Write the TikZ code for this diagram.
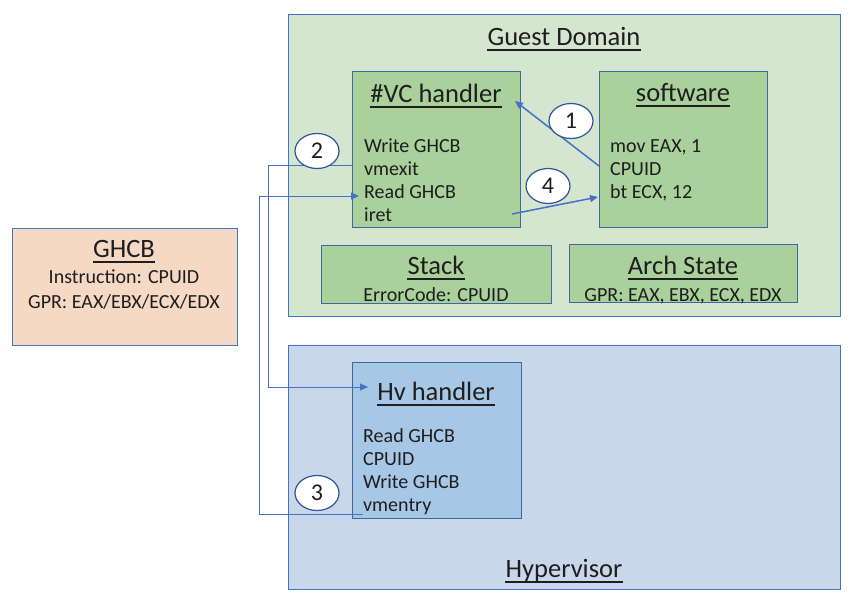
\documentclass[tikz,border=0pt]{standalone}
\usepackage{fontspec}
\setmainfont{Carlito}
\usetikzlibrary{shapes.geometric,arrows.meta}
\definecolor{bordblue}{HTML}{4472C4}
\definecolor{darkbord}{HTML}{41689E}
\definecolor{guestfill}{HTML}{D5E6D0}
\definecolor{greenbox}{HTML}{AAD09B}
\definecolor{hvfill}{HTML}{C9D7EA}
\definecolor{hvbox}{HTML}{A7C7E6}
\definecolor{ghcbfill}{HTML}{F6D9C5}
\definecolor{txt}{HTML}{1E1E1E}
\definecolor{circbord}{HTML}{2F5597}
\tikzset{
  x=1pt, y=-1pt,
  region/.style={draw=bordblue, line width=1.3pt, anchor=north west, inner sep=0pt},
  inbox/.style={draw=darkbord, line width=1.3pt, anchor=north west, inner sep=0pt},
  ttl/.style={anchor=base, inner sep=0pt, text=txt, font=\fontsize{26.5}{30}\selectfont},
  bodyl/.style={anchor=base west, inner sep=0pt, text=txt, font=\fontsize{20}{23}\selectfont},
  bodyc/.style={anchor=base, inner sep=0pt, text=txt, font=\fontsize{20}{23}\selectfont},
  num/.style={ellipse, draw=circbord, line width=1.2pt, fill=white, minimum width=44pt, minimum height=35pt, inner sep=0pt, text=txt, font=\fontsize{24}{26}\selectfont},
  arr/.style={draw=bordblue, line width=1.5pt, -{Triangle[length=8pt,width=7pt]}},
  arrthin/.style={draw=bordblue, line width=1pt, -{Triangle[length=8pt,width=7pt]}},
  uline/.style={draw=txt, line width=1.5pt}
}
\newcommand{\ul}[1]{\draw[uline] ([yshift=-5pt]#1.base west) -- ([yshift=-5pt]#1.base east);}
\begin{document}
\begin{tikzpicture}
\useasboundingbox (0,0) rectangle (857,603);
\fill[white] (0,0) rectangle (857,603);
% regions
\node[region, fill=guestfill, minimum width=552pt, minimum height=302pt] (guest) at (288,14) {};
\node[region, fill=hvfill, minimum width=552pt, minimum height=244pt] (hyp) at (288,345) {};
\node[region, fill=ghcbfill, minimum width=225pt, minimum height=117pt] (ghcb) at (12,228) {};
% inner boxes
\node[inbox, fill=greenbox, minimum width=168pt, minimum height=156pt] (vc) at (352,71) {};
\node[inbox, fill=greenbox, minimum width=168pt, minimum height=156pt] (sw) at (599,71) {};
\node[inbox, fill=greenbox, minimum width=230pt, minimum height=58pt] (stack) at (321,245) {};
\node[inbox, fill=greenbox, minimum width=228pt, minimum height=58pt] (arch) at (569,244) {};
\node[inbox, fill=hvbox, minimum width=169pt, minimum height=156pt] (hv) at (352,362) {};
% titles
\node[ttl] (guestt) at (564,45) {Guest Domain}; \ul{guestt}
\node[ttl] (hypt) at (564,577) {Hypervisor}; \ul{hypt}
\node[ttl] (vct) at (436,102) {\#VC handler}; \ul{vct}
\node[ttl] (swt) at (683,101) {software}; \ul{swt}
\node[ttl] (stackt) at (436,274) {Stack}; \ul{stackt}
\node[ttl] (archt) at (683,274) {Arch State}; \ul{archt}
\node[ttl] (hvt) at (436,400) {Hv handler}; \ul{hvt}
\node[ttl] (ghcbt) at (124,257) {GHCB}; \ul{ghcbt}
% bodies
\node[bodyl] (vc1) at (364,152) {Write GHCB};
\node[bodyl] (vc2) at (364,175) {vmexit};
\node[bodyl] (vc3) at (364,198) {Read GHCB};
\node[bodyl] (vc4) at (364,221) {iret};
\node[bodyl] (sw1) at (610,152) {mov EAX, 1};
\node[bodyl] (sw2) at (610,175) {CPUID};
\node[bodyl] (sw3) at (610,198) {bt ECX, 12};
\node[bodyl] (hv1) at (363,442) {Read GHCB};
\node[bodyl] (hv2) at (363,465) {CPUID};
\node[bodyl] (hv3) at (363,488) {Write GHCB};
\node[bodyl] (hv4) at (363,511) {vmentry};
\node[bodyc] (st1) at (436,301) {ErrorCode: CPUID};
\node[bodyc] (ar1) at (683,301) {GPR: EAX, EBX, ECX, EDX};
\node[bodyc] (gh1) at (124,283) {Instruction: CPUID};
\node[bodyc] (gh2) at (124,308) {GPR: EAX/EBX/ECX/EDX};
% connector coordinates
\coordinate (a1s) at (599,166);
\coordinate (a1e) at (515,101);
\coordinate (a4s) at (512,214);
\coordinate (a4e) at (598,197);
\coordinate (c2s) at (352,165);
\coordinate (c2a) at (268,165);
\coordinate (c2b) at (268,387);
\coordinate (c2e) at (368,387);
\coordinate (c3s) at (363,514);
\coordinate (c3a) at (259,514);
\coordinate (c3b) at (259,196);
\coordinate (c3e) at (359,196);
% connectors
\draw[arr] (a1s) -- (a1e);
\draw[arr] (a4s) -- (a4e);
\draw[arrthin] (c2s) -- (c2a) -- (c2b) -- (c2e);
\draw[arrthin] (c3s) -- (c3a) -- (c3b) -- (c3e);
% step numbers
\node[num] (n1) at (571,121) {1};
\node[num] (n2) at (317,151) {2};
\node[num] (n3) at (317,493) {3};
\node[num] (n4) at (548,186) {4};
\end{tikzpicture}
\end{document}
